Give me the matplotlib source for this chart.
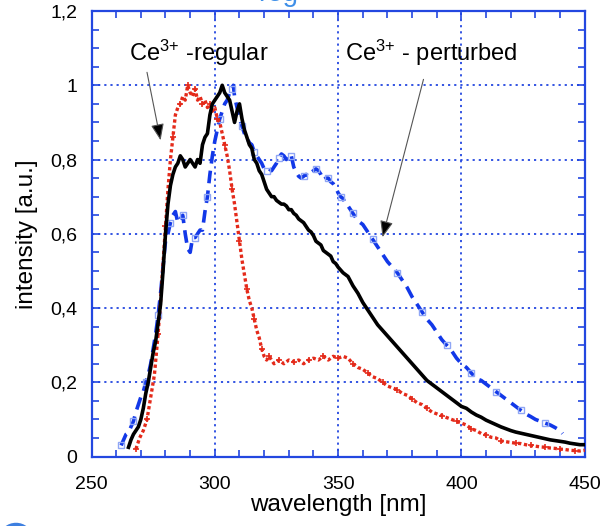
import matplotlib
matplotlib.use("Agg")
import matplotlib.pyplot as plt
from matplotlib.ticker import MultipleLocator, FixedLocator, FixedFormatter
from matplotlib.patches import Circle

plt.rcParams['font.family'] = ['Liberation Sans', 'DejaVu Sans']
plt.rcParams['mathtext.fontset'] = 'custom'
plt.rcParams['mathtext.rm'] = 'Liberation Sans'

# ---------------- data ----------------
red_wl = [268, 269.5, 271, 272.5, 274, 275.5, 277, 278, 279, 280, 281, 282, 283, 284, 285, 286, 287, 288,
          289, 290, 291, 292, 293, 294, 295, 296, 297, 298, 299, 300, 301, 302, 303, 304, 305, 306, 307, 308,
          309, 310, 311, 312, 313, 314, 315, 316, 317, 318, 319, 320, 321, 322, 323, 324, 326, 328, 330, 332,
          334, 336, 338, 340, 342, 344, 346, 348, 350, 352, 354, 356, 358, 360, 362, 364, 366, 368, 370, 372,
          374, 376, 378, 380, 382, 384, 386, 388, 390, 392, 394, 396, 398, 400, 402, 404, 406, 408, 410, 412,
          414, 416, 418, 420, 422, 424, 426, 428, 430, 432, 434, 436, 438, 440, 442, 444, 446, 448, 450]
red_val = [0.02, 0.05, 0.07, 0.10, 0.16, 0.22, 0.33, 0.42, 0.52, 0.62, 0.72, 0.80, 0.86, 0.92, 0.94, 0.95, 0.97, 0.96,
           1.0, 0.98, 0.97, 0.99, 0.96, 0.97, 0.95, 0.96, 0.94, 0.95, 0.93, 0.94, 0.91, 0.90, 0.87, 0.84, 0.81, 0.77, 0.72, 0.68,
           0.63, 0.58, 0.53, 0.49, 0.45, 0.42, 0.40, 0.37, 0.34, 0.32, 0.29, 0.27, 0.26, 0.27, 0.26, 0.25, 0.26, 0.25, 0.26, 0.255,
           0.26, 0.25, 0.26, 0.265, 0.26, 0.27, 0.26, 0.27, 0.265, 0.27, 0.265, 0.25, 0.24, 0.235, 0.225, 0.215, 0.21, 0.20, 0.19, 0.185,
           0.18, 0.17, 0.165, 0.155, 0.145, 0.14, 0.13, 0.12, 0.115, 0.11, 0.105, 0.10, 0.095, 0.09, 0.085, 0.075, 0.07, 0.062, 0.058, 0.052,
           0.05, 0.042, 0.04, 0.038, 0.036, 0.035, 0.032, 0.03, 0.028, 0.026, 0.025, 0.023, 0.022, 0.02, 0.019, 0.017, 0.016, 0.015, 0.017]

black_wl = [265, 266, 267, 268, 269, 270, 271, 272, 273, 274, 275, 276, 277, 278, 279, 280, 281, 282, 283, 284,
            285, 286, 287, 288, 289, 290, 291, 292, 293, 294, 295, 296, 297, 298, 299, 300, 301, 302, 303, 304,
            305, 306, 307, 308, 309, 310, 311, 312, 313, 314, 315, 316, 317, 318, 319, 320, 321, 322, 323, 324,
            325, 326, 327, 328, 329, 330, 331, 332, 333, 334, 335, 336, 337, 338, 339, 340, 341, 342, 343, 344,
            345, 346, 347, 348, 349, 350, 352, 354, 356, 358, 360, 362, 364, 366, 368, 370, 372, 374, 376, 378,
            380, 382, 384, 386, 388, 390, 392, 394, 396, 398, 400, 402, 404, 406, 408, 410, 412, 414, 416, 418,
            420, 422, 424, 426, 428, 430, 432, 434, 436, 438, 440, 442, 444, 446, 448, 450]
black_val = [0.025, 0.045, 0.06, 0.07, 0.08, 0.10, 0.13, 0.17, 0.20, 0.24, 0.28, 0.31, 0.36, 0.41, 0.50, 0.60, 0.68, 0.73, 0.76, 0.78,
             0.79, 0.81, 0.80, 0.78, 0.79, 0.80, 0.79, 0.78, 0.80, 0.79, 0.84, 0.86, 0.87, 0.92, 0.95, 0.96, 0.97, 0.98, 1.0, 0.98,
             0.97, 0.96, 0.93, 0.90, 0.93, 0.95, 0.91, 0.88, 0.86, 0.84, 0.83, 0.80, 0.79, 0.77, 0.76, 0.74, 0.72, 0.71, 0.70, 0.70,
             0.69, 0.685, 0.68, 0.68, 0.675, 0.665, 0.665, 0.655, 0.65, 0.64, 0.635, 0.63, 0.62, 0.61, 0.605, 0.595, 0.58, 0.575, 0.57, 0.555,
             0.55, 0.545, 0.54, 0.525, 0.52, 0.51, 0.495, 0.485, 0.46, 0.44, 0.415, 0.395, 0.375, 0.355, 0.34, 0.325, 0.31, 0.295, 0.28, 0.265,
             0.25, 0.235, 0.22, 0.205, 0.195, 0.185, 0.175, 0.165, 0.155, 0.145, 0.135, 0.13, 0.12, 0.112, 0.106, 0.098, 0.092, 0.086, 0.08, 0.075,
             0.07, 0.066, 0.063, 0.06, 0.057, 0.054, 0.051, 0.048, 0.045, 0.043, 0.041, 0.039, 0.036, 0.034, 0.032, 0.032]

blue_wl = [262, 263, 264, 265, 266, 267, 268, 269, 270, 271, 272, 273, 274, 275, 276, 277, 278, 279, 280, 281,
           282, 283, 284, 285, 286, 287, 288, 289, 290, 291, 292, 293, 294, 295, 296, 297, 298, 299, 300, 301,
           302, 303, 304, 305, 306, 307, 307.5, 308, 309, 310, 311, 312, 313, 314, 315, 316, 317, 318, 319, 320,
           321, 322, 323, 324, 325, 326, 327, 328, 329, 330, 331, 332, 333, 334, 335, 336, 337, 338, 339, 340,
           341, 342, 343, 344, 345, 346, 347, 348, 349, 350, 351, 352, 353, 354, 355, 356, 357, 358, 360, 362,
           364, 366, 368, 370, 372, 374, 376, 378, 380, 382, 384, 386, 388, 390, 392, 394, 396, 398, 400, 402,
           404, 406, 408, 410, 412, 414, 416, 418, 420, 422, 424, 426, 428, 430, 432, 434, 436, 438, 440, 441]
blue_val = [0.03, 0.045, 0.06, 0.065, 0.08, 0.095, 0.12, 0.14, 0.16, 0.175, 0.20, 0.22, 0.25, 0.29, 0.33, 0.38, 0.44, 0.51, 0.58, 0.60,
            0.63, 0.65, 0.66, 0.63, 0.64, 0.65, 0.60, 0.56, 0.55, 0.59, 0.59, 0.60, 0.61, 0.61, 0.66, 0.70, 0.76, 0.81, 0.85, 0.88,
            0.91, 0.93, 0.95, 0.96, 0.98, 0.99, 1.0, 0.97, 0.94, 0.91, 0.89, 0.87, 0.86, 0.845, 0.84, 0.82, 0.81, 0.80, 0.79, 0.775,
            0.77, 0.775, 0.77, 0.78, 0.79, 0.805, 0.815, 0.81, 0.80, 0.815, 0.81, 0.78, 0.765, 0.755, 0.75, 0.755, 0.76, 0.755, 0.765, 0.77,
            0.775, 0.77, 0.76, 0.745, 0.75, 0.75, 0.74, 0.735, 0.725, 0.71, 0.70, 0.695, 0.68, 0.675, 0.665, 0.655, 0.645, 0.635, 0.625, 0.605,
            0.585, 0.565, 0.545, 0.525, 0.51, 0.495, 0.475, 0.455, 0.43, 0.41, 0.39, 0.37, 0.355, 0.335, 0.315, 0.30, 0.285, 0.265, 0.25, 0.24,
            0.225, 0.21, 0.205, 0.195, 0.185, 0.175, 0.165, 0.155, 0.145, 0.135, 0.125, 0.115, 0.108, 0.10, 0.095, 0.09, 0.085, 0.078, 0.07, 0.062]

x_ticks = [250, 300, 350, 400, 450]
x_ticklabels = ['250', '300', '350', '400', '450']
y_ticks = [0, 0.2, 0.4, 0.6, 0.8, 1.0, 1.2]
y_ticklabels = ['0', '0,2', '0,4', '0,6', '0,8', '1', '1,2']

label_regular = r'$\mathregular{Ce^{3{+}}}$ -regular'
label_perturbed = r'$\mathregular{Ce^{3{+}}}$ - perturbed'

# ---------------- plot ----------------
AX_BLUE = '#2347e0'
fig = plt.figure(figsize=(6.06, 5.26), dpi=100)
ax = fig.add_axes([0.151, 0.132, 0.814, 0.847])

ax.plot(blue_wl, blue_val, color='#1238e8', lw=2.6, ls=(0, (3.5, 2)), zorder=3,
        marker='s', markersize=5, markerfacecolor='none', markeredgecolor='#8fa6f5',
        markeredgewidth=1.0, markevery=5)
ax.plot(red_wl, red_val, color='#e42a1a', lw=2.4, ls=(0, (1, 0.8)), zorder=4,
        marker='+', markersize=4, markeredgecolor='#e42a1a', markeredgewidth=1.2, markevery=3)
ax.plot(black_wl, black_val, color='black', lw=2.6, zorder=5)

ax.set_xlim(250, 450)
ax.set_ylim(0, 1.2)
ax.xaxis.set_major_locator(FixedLocator(x_ticks))
ax.xaxis.set_major_formatter(FixedFormatter(x_ticklabels))
ax.yaxis.set_major_locator(FixedLocator(y_ticks))
ax.yaxis.set_major_formatter(FixedFormatter(y_ticklabels))
ax.xaxis.set_minor_locator(MultipleLocator(10))
ax.yaxis.set_minor_locator(MultipleLocator(0.05))

ax.grid(True, which='major', color=AX_BLUE, ls=(0, (1.2, 2.2)), lw=1.3)
for s in ax.spines.values():
    s.set_color(AX_BLUE)
    s.set_linewidth(1.6)
ax.tick_params(which='both', direction='in', top=True, right=True, color=AX_BLUE, width=1.2,
               labelsize=14, labelcolor='black')
ax.tick_params(which='major', length=6)
ax.tick_params(which='minor', length=5)
ax.tick_params(axis='x', pad=14)
ax.tick_params(axis='y', pad=10)

ax.set_xlabel('wavelength [nm]', fontsize=17.5, labelpad=1)
ax.set_ylabel('intensity [a.u.]', fontsize=17.5, labelpad=9)

ax.text(265.2, 1.086, label_regular, fontsize=17, va='center', ha='left', zorder=6)
ax.text(352.6, 1.086, label_perturbed, fontsize=17, va='center', ha='left', zorder=6)

arrow_kw = dict(arrowstyle='-|>,head_length=1.0,head_width=0.4', color='#555555', lw=0.8,
                shrinkA=0, shrinkB=0)
a1 = ax.annotate('', xy=(278.0, 0.852), xytext=(272.5, 1.035), arrowprops=dict(arrow_kw))
a2 = ax.annotate('', xy=(368.0, 0.591), xytext=(384.6, 1.016), arrowprops=dict(arrow_kw))
for a in (a1, a2):
    a.arrow_patch.set_facecolor('black')

# cut-off slide decorations (partially visible in the reference)
fig.text(278 / 606, 1 - 1 / 526, 'reg', ha='center', va='baseline', fontsize=20, color='#3f8fe8')
fig.patches.append(Circle((16 / 606, 1 - 537 / 526), 14 / 606, transform=fig.transFigure,
                          fill=False, edgecolor='#3d7fe0', lw=3))

fig.savefig('out.png', dpi=100)
